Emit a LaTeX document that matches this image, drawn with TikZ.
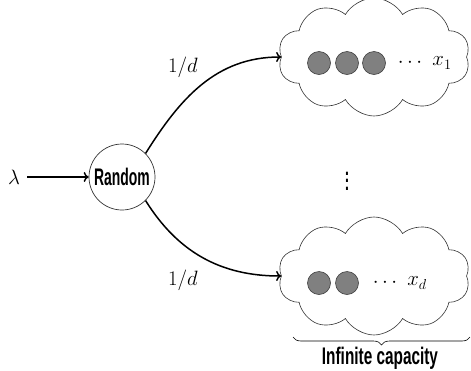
\documentclass[tikz,border=0pt]{standalone}
\usepackage{fontspec}
\usetikzlibrary{shapes.symbols,decorations.pathreplacing,arrows.meta}
\newfontfamily\condfont[FakeStretch=0.64]{Liberation Sans}
\newfontfamily\narrowfont[FakeStretch=0.58]{Liberation Sans}
\begin{document}
\begin{tikzpicture}[x=1pt,y=-1pt,
  lbl/.style={font=\fontsize{20.5}{24}\selectfont},
  cond/.style={font=\fontsize{24}{28}\selectfont\condfont\bfseries},
  ball/.style={circle,draw=black!75,fill=black!50,line width=0.6pt,minimum size=23pt,inner sep=0pt},
  queue/.style={cloud,draw=black!80,line width=0.6pt,cloud puffs=10,cloud puff arc=120,aspect=1.9,minimum width=192pt,minimum height=118pt,inner sep=0pt},
  flow/.style={line width=1.5pt,-{To[length=5pt,width=10pt]}}]
\useasboundingbox (0,0) rectangle (471,370);
\node[circle,draw=black!80,line width=0.7pt,minimum size=66pt,inner sep=0pt,font=\fontsize{24}{28}\selectfont\narrowfont\bfseries] (r) at (122,177) {Random};
\node[lbl] (lam) at (14,177) {$\lambda$};
\node[queue] (c1) at (374,57) {};
\node[queue] (c2) at (374,276) {};
\node[ball] (b11) at (319,63) {};
\node[ball] (b12) at (347,63) {};
\node[ball] (b13) at (374,63) {};
\node[lbl] (d1) at (410,63) {$\cdots$};
\node[lbl] (x1) at (442,63) {$x_1$};
\node[ball] (b21) at (319,283) {};
\node[ball] (b22) at (347,283) {};
\node[lbl] (d2) at (385,283) {$\cdots$};
\node[lbl] (xd) at (417,283) {$x_d$};
\node[font=\fontsize{22}{22}\selectfont\condfont\bfseries] (vd) at (347,181) {\vbox{\baselineskip=7.6pt\hbox{.}\hbox{.}\hbox{.}}};
\node[lbl] (p1) at (183,67) {$1/d$};
\node[lbl] (p2) at (183,280) {$1/d$};
\draw[flow,shorten <=4pt] (lam.east) -- (r.west);
\draw[flow] (r.45) to[out=58,in=180] (c1.west);
\draw[flow] (r.-45) to[out=-58,in=180] (c2.west);
\coordinate (bl) at (293,337);
\coordinate (br) at (470,337);
\draw[line width=0.6pt,decorate,decoration={brace,mirror,amplitude=8pt}] (bl) -- (br);
\node[cond] (cap) at (380,358) {Infinite capacity};
\end{tikzpicture}
\end{document}
